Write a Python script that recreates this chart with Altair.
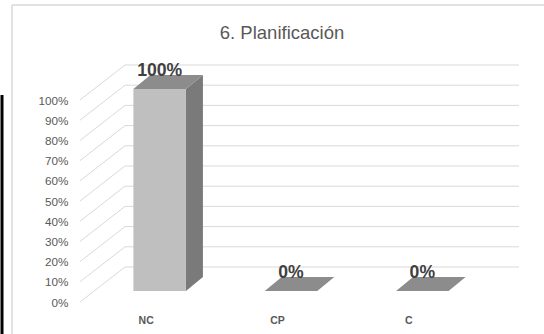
import altair as alt
import pandas as pd

# ---------------- data ----------------
categories = ["NC", "CP", "C"]
values = [1.0, 0.0, 0.0]
tick_values = [0.0, 0.1, 0.2, 0.3, 0.4, 0.5, 0.6, 0.7, 0.8, 0.9, 1.0]
title_text = "6. Planificación"

# ---------------- geometry / style ----------------
W, H = 394, 202            # back wall (plot area) size in px
LEFT, TOP = 125, 65        # plot origin in the 544x334 window
STEP = W / len(categories)
HALF = 0.2                 # half bar width in band units
FRONT = (-31, 24)          # bar front plane offset from back wall (px)
BACK = (-14, 10)           # bar back plane offset (px)
FLOOR = (-45, 35)          # floor front edge offset (px)
FONT = "Liberation Sans"
GRID = "#d9d9d9"
TXT = "#595959"


def ox(p):
    return p / STEP


def oy(p):
    return -p / H


XS = alt.Scale(domain=[-0.5, len(categories) - 0.5], nice=False, zero=False)
YS = alt.Scale(domain=[0, 1], nice=False, zero=False)

label_expr = "[" + ",".join("'%s'" % c for c in categories) + "][datum.value]"

X_AXIS = alt.Axis(
    values=list(range(len(categories))), labelExpr=label_expr, title=None,
    domain=False, ticks=False, tickSize=0, grid=False,
    labelOffset=FLOOR[0], labelPadding=56, labelBaseline="alphabetic",
    labelFont=FONT, labelFontSize=10.5, labelFontWeight="bold",
    labelColor=TXT)
Y_AXIS = alt.Axis(
    values=tick_values, format=".0%", domain=False, ticks=False, title=None,
    tickSize=0, grid=False, offset=-FLOOR[0], labelPadding=12,
    labelOffset=FLOOR[1], labelFont=FONT, labelFontSize=11.7,
    labelColor=TXT, labelOverlap=False, labelFlush=False)

# ---------------- tables ----------------
grid_df = pd.DataFrame({"y": tick_values, "x": -0.5, "x2": len(categories) - 0.5})
diag_df = pd.DataFrame({
    "x": [-0.5 + ox(FLOOR[0])] * len(tick_values),
    "y": [t + oy(FLOOR[1]) for t in tick_values],
    "x2": [-0.5] * len(tick_values),
    "y2": tick_values,
})

front_rows, top_rows, side_rows, lab_rows = [], [], [], []
for i, (c, v) in enumerate(zip(categories, values)):
    front_rows.append({"cat": c,
                       "x": i - HALF + ox(FRONT[0]), "x2": i + HALF + ox(FRONT[0]),
                       "y": 0 + oy(FRONT[1]), "y2": v + oy(FRONT[1])})
    for d in (FRONT, BACK):
        top_rows.append({"cat": c, "y": v + oy(d[1]),
                         "x": i - HALF + ox(d[0]), "x2": i + HALF + ox(d[0])})
        if v > 0:
            side_rows.append({"cat": c, "x": i + HALF + ox(d[0]),
                              "y": 0 + oy(d[1]), "y2": v + oy(d[1])})
    lab_rows.append({"cat": c, "v": v, "x": i + ox(FRONT[0]), "y": v + oy(BACK[1])})

front_df = pd.DataFrame(front_rows)
top_df = pd.DataFrame(top_rows)
side_df = pd.DataFrame(side_rows) if side_rows else pd.DataFrame(
    {"cat": [], "x": [], "y": [], "y2": []})
lab_df = pd.DataFrame(lab_rows)

# ---------------- layers ----------------
grid = alt.Chart(grid_df).mark_rule(color=GRID, strokeWidth=1).encode(
    x=alt.X("x:Q", scale=XS, axis=X_AXIS), x2="x2:Q",
    y=alt.Y("y:Q", scale=YS, axis=Y_AXIS),
)

diag = alt.Chart(diag_df).mark_rule(color=GRID, strokeWidth=1).encode(
    x=alt.X("x:Q", scale=XS, axis=X_AXIS), x2="x2:Q",
    y=alt.Y("y:Q", scale=YS, axis=Y_AXIS), y2="y2:Q",
)

side = alt.Chart(side_df).mark_area(color="#7a7a7a", opacity=1).encode(
    x=alt.X("x:Q", scale=XS, axis=X_AXIS),
    y=alt.Y("y:Q", scale=YS, axis=Y_AXIS, stack=None), y2="y2:Q",
    detail="cat:N",
)

top = alt.Chart(top_df).mark_area(color="#8c8c8c", opacity=1, orient="horizontal").encode(
    y=alt.Y("y:Q", scale=YS, axis=Y_AXIS),
    x=alt.X("x:Q", scale=XS, axis=X_AXIS, stack=None), x2="x2:Q",
    detail="cat:N",
)

front = alt.Chart(front_df).mark_rect(color="#bfbfbf").encode(
    x=alt.X("x:Q", scale=XS, axis=X_AXIS), x2="x2:Q",
    y=alt.Y("y:Q", scale=YS, axis=Y_AXIS), y2="y2:Q",
)

labels = alt.Chart(lab_df).mark_text(
    font=FONT, fontSize=17.6, fontWeight="bold", color="#404040",
    baseline="alphabetic", align="center", dy=1,
).encode(
    x=alt.X("x:Q", scale=XS, axis=X_AXIS),
    y=alt.Y("y:Q", scale=YS, axis=Y_AXIS),
    text=alt.Text("v:Q", format=".0%"),
)

one = alt.Data(values=[{"t": title_text}])
title = alt.Chart(one).mark_text(
    font=FONT, fontSize=18.5, color=TXT, align="center", baseline="alphabetic"
).encode(x=alt.value(282 - LEFT), y=alt.value(39 - TOP), text="t:N")

border_top = alt.Chart(one).mark_rule(color=GRID, strokeWidth=1.5).encode(
    x=alt.value(12 - LEFT), x2=alt.value(544 - LEFT), y=alt.value(5 - TOP))
border_left = alt.Chart(one).mark_rule(color=GRID, strokeWidth=1.5).encode(
    x=alt.value(12 - LEFT), y=alt.value(5 - TOP), y2=alt.value(334 - TOP))
black_line = alt.Chart(one).mark_rule(color="#000000", strokeWidth=3).encode(
    x=alt.value(2 - LEFT), y=alt.value(95 - TOP), y2=alt.value(334 - TOP))

chart = alt.layer(
    grid, diag, side, top, front, labels,
    border_top, border_left, black_line, title,
).properties(
    width=W, height=H,
    padding={"left": LEFT, "top": TOP, "right": 544 - LEFT - W, "bottom": 334 - TOP - H},
    autosize=alt.AutoSizeParams(type="none"),
    background="white",
).configure_view(stroke=None)

chart.save("out.html", embed_options={"renderer": "svg", "actions": False})
